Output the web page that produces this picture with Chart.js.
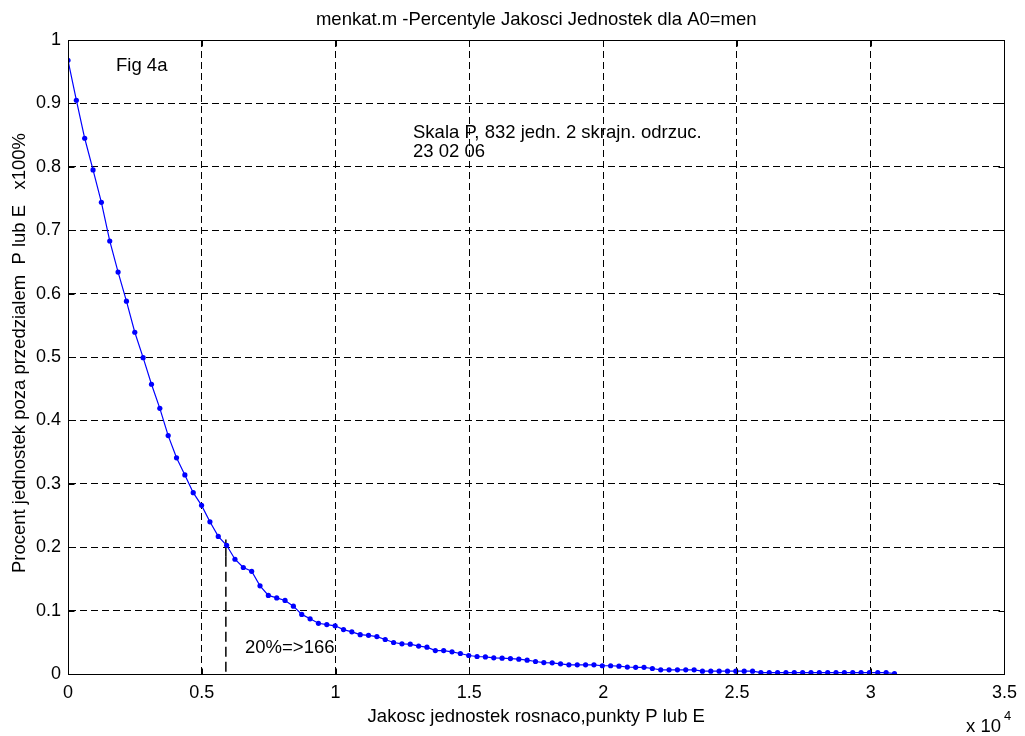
<!DOCTYPE html>
<html>
<head>
<meta charset="utf-8">
<script src="https://cdn.jsdelivr.net/npm/chart.js@4/dist/chart.umd.min.js"></script>
<style>
  html, body { margin: 0; padding: 0; background: #fff; }
  #wrap { width: 1025px; height: 736px; position: relative; }
</style>
</head>
<body>
<div id="wrap"><canvas id="c" width="1025" height="736"></canvas></div>
<script>
// Quality of units in ascending order (points P or E)
const quality = [
  0, 312, 624, 936, 1248, 1560, 1872, 2184, 2496, 2808,
  3120, 3432, 3744, 4056, 4368, 4680, 4992, 5304, 5616, 5928,
  6240, 6552, 6864, 7176, 7488, 7800, 8112, 8424, 8736, 9048,
  9360, 9672, 9984, 10296, 10608, 10920, 11232, 11544, 11856, 12168,
  12480, 12792, 13104, 13416, 13728, 14040, 14352, 14664, 14976, 15288,
  15600, 15912, 16224, 16536, 16848, 17160, 17472, 17784, 18096, 18408,
  18720, 19032, 19344, 19656, 19968, 20280, 20592, 20904, 21216, 21528,
  21840, 22152, 22464, 22776, 23088, 23400, 23712, 24024, 24336, 24648,
  24960, 25272, 25584, 25896, 26208, 26520, 26832, 27144, 27456, 27768,
  28080, 28392, 28704, 29016, 29328, 29640, 29952, 30264, 30576, 30888
];

// Share of units outside the interval (x100%)
const share = [
  0.968, 0.905, 0.845, 0.795, 0.744, 0.683, 0.634, 0.588, 0.539, 0.499,
  0.457, 0.419, 0.376, 0.341, 0.314, 0.286, 0.266, 0.240, 0.217, 0.203,
  0.181, 0.168, 0.162, 0.139, 0.124, 0.120, 0.116, 0.107, 0.094, 0.087,
  0.080, 0.078, 0.076, 0.070, 0.0665, 0.062, 0.061, 0.059, 0.0544, 0.0497,
  0.0476, 0.047, 0.044, 0.0423, 0.037, 0.037, 0.035, 0.0323, 0.0292, 0.0276,
  0.027, 0.0255, 0.025, 0.0244, 0.0234, 0.0218, 0.0197, 0.018, 0.0176, 0.016,
  0.0145, 0.0145, 0.0145, 0.0145, 0.013, 0.013, 0.0123, 0.011, 0.0105, 0.0105,
  0.0087, 0.0066, 0.0066, 0.0066, 0.0066, 0.0066, 0.0044, 0.0044, 0.0044, 0.0044,
  0.0044, 0.0044, 0.0044, 0.0023, 0.0023, 0.0023, 0.0023, 0.0023, 0.0023, 0.0023,
  0.0023, 0.0023, 0.0023, 0.0023, 0.0023, 0.0023, 0.0023, 0.0023, 0.0023, 0.0008
];

// 20% threshold marker
const markerX = [5900, 5900];
const markerSolidY = [0.212, 0.185];
const markerDashY = [0.185, 0];

// Axis ranges and tick steps
const xRange = [0, 35000];
const xStep = 5000;
const yRange = [0, 1];
const yStep = 0.1;

const titleText = 'menkat.m -Percentyle Jakosci Jednostek dla A0=men';
const xLabel = 'Jakosc jednostek rosnaco,punkty P lub E';
const yLabel = 'Procent jednostek poza przedzialem  P lub E   x100%';
const figLabel = 'Fig 4a';
const noteLines = ['Skala P, 832 jedn. 2 skrajn. odrzuc.', '23 02 06'];
const markerLabel = '20%=>166';

const FONT = '"Liberation Sans", Arial, sans-serif';
const TEXT_SIZE = 18.5;
const TICK_SIZE = 18;

const curve = quality.map((q, i) => ({ x: q, y: share[i] }));
const solidPart = markerX.map((x, i) => ({ x: x, y: markerSolidY[i] }));
const dashPart = markerX.map((x, i) => ({ x: x, y: markerDashY[i] }));

// Box, inward tick marks and free text
const decorations = {
  id: 'decorations',
  afterDatasetsDraw(chart) {
    const { ctx, chartArea: a, scales } = chart;
    ctx.save();
    ctx.strokeStyle = '#000';
    ctx.lineWidth = 1;
    ctx.setLineDash([]);
    const L = Math.round(a.left) + 0.5, R = Math.round(a.right) + 0.5;
    const T = Math.round(a.top) + 0.5, B = Math.round(a.bottom) + 0.5;
    ctx.strokeRect(L, T, R - L, B - T);
    const tl = 6;
    ctx.beginPath();
    scales.x.ticks.forEach(t => {
      const px = Math.round(scales.x.getPixelForValue(t.value)) + 0.5;
      ctx.moveTo(px, B); ctx.lineTo(px, B - tl);
      ctx.moveTo(px, T); ctx.lineTo(px, T + tl);
    });
    scales.y.ticks.forEach(t => {
      const py = Math.round(scales.y.getPixelForValue(t.value)) + 0.5;
      ctx.moveTo(L, py); ctx.lineTo(L + tl, py);
      ctx.moveTo(R, py); ctx.lineTo(R - tl, py);
    });
    ctx.stroke();

    ctx.fillStyle = '#000';
    ctx.textBaseline = 'middle';
    ctx.font = TEXT_SIZE + 'px ' + FONT;
    ctx.textAlign = 'center';
    ctx.fillText(titleText, (a.left + a.right) / 2, 20);
    ctx.fillText(xLabel, (a.left + a.right) / 2, 717);

    ctx.textAlign = 'left';
    ctx.fillText(figLabel, 116, 66);
    ctx.fillText(noteLines[0], 413, 133);
    ctx.fillText(noteLines[1], 413, 152);
    ctx.fillText(markerLabel, 245, 648);

    ctx.fillText('x 10', 966, 727);
    ctx.font = '13px ' + FONT;
    ctx.fillText('4', 1004, 716);

    ctx.font = TEXT_SIZE + 'px ' + FONT;
    ctx.translate(20, 353);
    ctx.rotate(-Math.PI / 2);
    ctx.textAlign = 'center';
    ctx.fillText(yLabel, 0, 0);
    ctx.restore();
  }
};

new Chart(document.getElementById('c'), {
  type: 'scatter',
  data: {
    datasets: [
      {
        data: curve,
        showLine: true,
        borderColor: '#0000ff',
        backgroundColor: '#0000ff',
        borderWidth: 1.2,
        pointRadius: 2.6,
        pointBorderWidth: 0,
        pointHoverRadius: 2.6
      },
      {
        data: solidPart,
        showLine: true,
        borderColor: '#000',
        borderWidth: 1.5,
        pointRadius: 0
      },
      {
        data: dashPart,
        showLine: true,
        borderColor: '#000',
        borderWidth: 1.5,
        borderDash: [10, 5],
        pointRadius: 0
      }
    ]
  },
  options: {
    responsive: false,
    devicePixelRatio: 1,
    animation: false,
    events: [],
    layout: { padding: { left: 0, top: 40, right: 16, bottom: 0 } },
    plugins: { legend: { display: false }, tooltip: { enabled: false }, title: { display: false } },
    scales: {
      x: {
        type: 'linear',
        min: xRange[0], max: xRange[1],
        afterFit(scale) { scale.height = 62; },
        ticks: {
          stepSize: xStep,
          color: '#000',
          font: { family: FONT, size: TICK_SIZE },
          padding: 8,
          maxRotation: 0,
          callback: v => String(Math.round(v / 1000) / 10)
        },
        grid: { color: '#000', lineWidth: 1, drawTicks: false },
        border: { display: true, color: '#000', width: 1, dash: [7, 4] }
      },
      y: {
        type: 'linear',
        min: yRange[0], max: yRange[1],
        afterFit(scale) { scale.width = 68; },
        ticks: {
          stepSize: yStep,
          color: '#000',
          font: { family: FONT, size: TICK_SIZE },
          padding: 7,
          callback: v => (v === 0 || v === 1) ? String(v) : v.toFixed(1)
        },
        grid: { color: '#000', lineWidth: 1, drawTicks: false },
        border: { display: true, color: '#000', width: 1, dash: [7, 4] }
      }
    }
  },
  plugins: [decorations]
});
</script>
</body>
</html>
